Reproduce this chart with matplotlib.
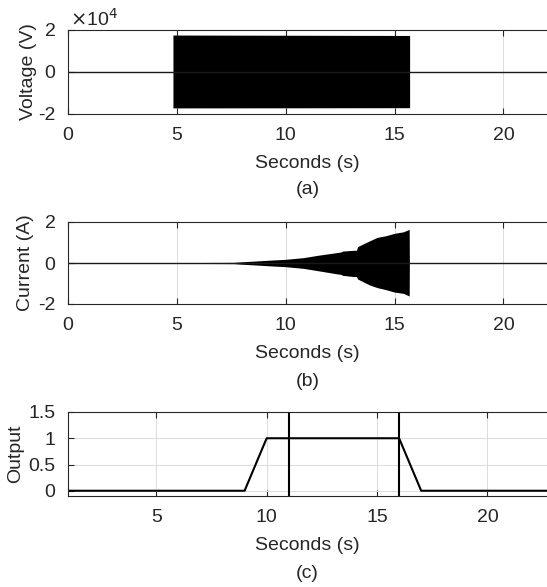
import matplotlib

matplotlib.use("Agg")
import matplotlib.pyplot as plt  # noqa: E402

plt.rcParams["font.family"] = ["Liberation Sans", "DejaVu Sans"]
plt.rcParams["axes.unicode_minus"] = False

# (a) voltage envelope (V)
volt_t = [0.0, 4.82, 4.82, 15.69, 15.69, 22.0]
volt_hi = [0.0, 0.0, 1.76e4, 1.74e4, 0.0, 0.0]
volt_lo = [0.0, 0.0, -1.71e4, -1.70e4, 0.0, 0.0]

# (b) current envelope (A)
cur_t = [0.0, 7.6, 8.0, 8.5, 9.3, 10.0, 10.8, 11.5, 12.3, 12.55, 12.6, 13.1, 13.25, 13.3,
         13.85, 14.2, 14.6, 15.0, 15.4, 15.67, 15.68, 22.0]
cur_hi = [0.0, 0.03, 0.06, 0.09, 0.14, 0.18, 0.26, 0.38, 0.50, 0.54, 0.58, 0.62, 0.62, 0.80,
          1.08, 1.25, 1.33, 1.45, 1.52, 1.64, 0.0, 0.0]
cur_lo = [0.0, -0.03, -0.06, -0.09, -0.14, -0.18, -0.26, -0.38, -0.52, -0.56, -0.60, -0.66, -0.66, -0.78,
          -1.07, -1.20, -1.30, -1.42, -1.48, -1.61, 0.0, 0.0]

# (c) output signal and marker lines
out_t = [1.0, 9.0, 10.0, 16.0, 17.0, 22.7]
out_v = [0.0, 0.0, 1.0, 1.0, 0.0, 0.0]
markers = [11.0, 16.0]

W, H = 547, 587
FS = 14
TXT = "#262626"
fig = plt.figure(figsize=(W / 100, H / 100), dpi=100)


def make_axes(top, bottom):
    return fig.add_axes([68 / W, 1 - bottom / H, (W - 68) / W, (bottom - top) / H])


def style(ax, ylabel, ylabel_x, xlabel_y, tag, tag_y):
    ax.tick_params(direction="in", top=True, right=False, labelsize=FS, length=4.5,
                   width=0.8, colors=TXT, pad=9)
    ax.grid(True, color="#dcdcdc", linewidth=0.7)
    ax.set_axisbelow(True)
    for sp in ax.spines.values():
        sp.set_color(TXT)
        sp.set_linewidth(0.8)
    ax.spines["right"].set_visible(False)
    ax.set_ylabel(ylabel, fontsize=FS, color=TXT)
    # label x is the right edge of the rotated text
    ax.yaxis.set_label_coords((ylabel_x - 68) / (W - 68), 0.5)
    cx = (68 + W) / 2 / W
    fig.text(cx, 1 - xlabel_y / H, "Seconds (s)", ha="center", va="center", fontsize=FS, color=TXT)
    fig.text(cx, 1 - tag_y / H, tag, ha="center", va="center", fontsize=FS, color=TXT)


ax1 = make_axes(30, 114)
ax1.fill_between(volt_t, volt_lo, volt_hi, color="black", linewidth=0)
ax1.plot([0, 22], [0, 0], color="#1a1a1a", linewidth=1.0)
ax1.set_xlim(0, 22)
ax1.set_ylim(-2e4, 2e4)
ax1.set_xticks([0, 5, 10, 15, 20])
ax1.set_yticks([-2e4, 0, 2e4])
ax1.set_yticklabels(["-2", "0", "2"])
style(ax1, "Voltage (V)", 37, 163, "(a)", 190)
fig.text(70 / W, 1 - 26 / H, r"$\times$10$^{4}$", fontsize=FS, color=TXT, va="baseline")

ax2 = make_axes(222, 304)
ax2.fill_between(cur_t, cur_lo, cur_hi, color="black", linewidth=0)
ax2.plot([0, 22], [0, 0], color="#1a1a1a", linewidth=1.0)
ax2.set_xlim(0, 22)
ax2.set_ylim(-2, 2)
ax2.set_xticks([0, 5, 10, 15, 20])
ax2.set_yticks([-2, 0, 2])
style(ax2, "Current (A)", 34, 353, "(b)", 381)

ax3 = make_axes(412, 496)
ax3.plot(out_t, out_v, color="black", linewidth=1.5)
for m in markers:
    ax3.axvline(m, color="black", linewidth=1.5)
ax3.set_xlim(1, 22.7)
ax3.set_ylim(-0.1, 1.5)
ax3.set_xticks([5, 10, 15, 20])
ax3.set_yticks([0, 0.5, 1, 1.5])
ax3.set_yticklabels(["0", "0.5", "1", "1.5"])
style(ax3, "Output", 24, 545, "(c)", 573)

fig.savefig("out.png", dpi=100)
